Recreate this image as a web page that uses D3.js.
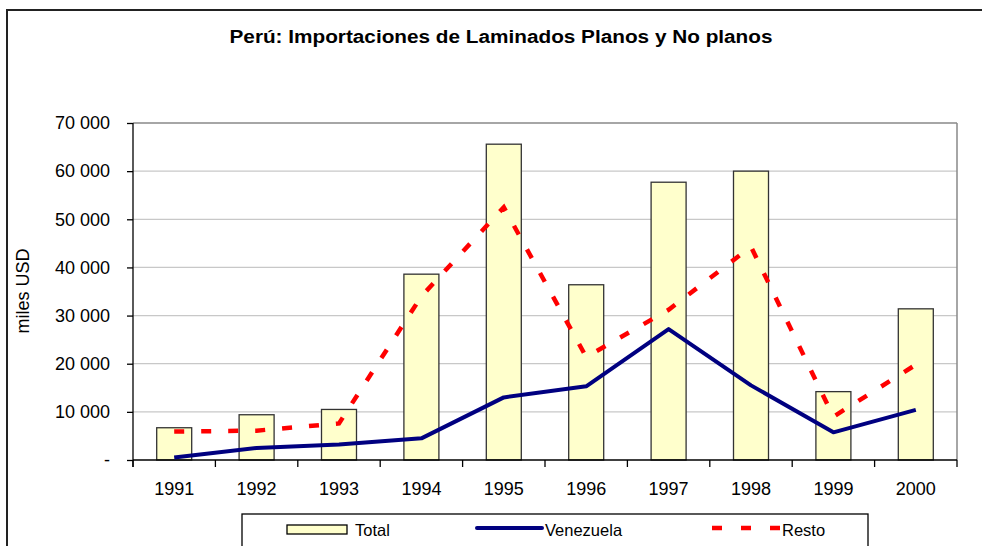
<!DOCTYPE html>
<html>
<head>
<meta charset="utf-8">
<script src="https://cdn.jsdelivr.net/npm/d3@7"></script>
<style>
  body { margin: 0; background: #fff; }
  svg { font-family: "Liberation Sans", Arial, sans-serif; }
</style>
</head>
<body>
<script>
var years = ["1991", "1992", "1993", "1994", "1995", "1996", "1997", "1998", "1999", "2000"];
var total = [6700, 9400, 10500, 38600, 65600, 36400, 57700, 60000, 14200, 31400];
var venezuela = [500, 2500, 3200, 4500, 13000, 15300, 27200, 15500, 5750, 10400];
var resto = [5900, 6100, 7600, 34000, 52500, 21400, 31200, 44300, 9000, 19800];
var yTicks = [0, 10000, 20000, 30000, 40000, 50000, 60000, 70000];

var width = 982,
    height = 546;

var svg = d3.select("body").append("svg")
    .attr("width", width)
    .attr("height", height);

// outer chart frame (right and bottom fall outside the picture)
svg.append("rect")
  .attr("x", 7).attr("y", 10)
  .attr("width", 990).attr("height", 560)
  .attr("fill", "none")
  .attr("stroke", "#222")
  .attr("stroke-width", 2);

svg.append("text")
  .attr("x", 501).attr("y", 43)
  .attr("text-anchor", "middle")
  .attr("textLength", 543)
  .attr("lengthAdjust", "spacingAndGlyphs")
  .style("font-size", "18px")
  .style("font-weight", "bold")
  .text("Perú: Importaciones de Laminados Planos y No planos");

var pLeft = 133, pRight = 957, pTop = 123, pBottom = 460;

var x = d3.scaleBand()
    .domain(years)
    .range([pLeft, pRight]);

var y = d3.scaleLinear()
    .domain([0, 70000])
    .range([pBottom, pTop]);

var fmt = function(d) { return d === 0 ? "-" : d3.format(",")(d).replace(",", " "); };

// gridlines
svg.append("g")
  .selectAll("line")
  .data(yTicks.slice(1))
  .enter().append("line")
  .attr("x1", pLeft).attr("x2", pRight)
  .attr("y1", d => y(d)).attr("y2", d => y(d))
  .attr("stroke", d => d === 70000 ? "#888" : "#c8c8c8")
  .attr("stroke-width", d => d === 70000 ? 1.5 : 1.3);

// right border of plot
svg.append("line")
  .attr("x1", pRight).attr("x2", pRight)
  .attr("y1", pTop).attr("y2", pBottom)
  .attr("stroke", "#888")
  .attr("stroke-width", 1.5);

// bars
svg.append("g")
  .selectAll("rect")
  .data(total)
  .enter().append("rect")
  .attr("x", (d, i) => x(years[i]) + x.bandwidth() / 2 - 17.5)
  .attr("y", d => y(d))
  .attr("width", 35)
  .attr("height", d => pBottom - y(d))
  .attr("fill", "#ffffcc")
  .attr("stroke", "#333")
  .attr("stroke-width", 1.3);

// y axis
var yAxis = d3.axisLeft(y)
    .tickValues(yTicks)
    .tickFormat(fmt)
    .tickSize(6)
    .tickPadding(17);

var gy = svg.append("g")
  .attr("transform", "translate(" + pLeft + ",0)")
  .call(yAxis);
gy.select(".domain").remove();
gy.append("line")
  .attr("x1", 0).attr("x2", 0)
  .attr("y1", pTop).attr("y2", pBottom + 7)
  .attr("stroke", "#000").attr("stroke-width", 1.3);
gy.selectAll(".tick line").attr("stroke", "#000").attr("stroke-width", 1.3);
gy.selectAll(".tick text")
  .style("font-size", "18px")
  .attr("fill", "#000");

// x axis
var gx = svg.append("g")
  .attr("transform", "translate(0," + pBottom + ")");
gx.append("line")
  .attr("x1", pLeft).attr("x2", pRight)
  .attr("stroke", "#000").attr("stroke-width", 1.3);
gx.selectAll("line.tk")
  .data(years.concat(["end"]))
  .enter().append("line")
  .attr("class", "tk")
  .attr("x1", (d, i) => pLeft + i * x.step())
  .attr("x2", (d, i) => pLeft + i * x.step())
  .attr("y1", 0).attr("y2", 7)
  .attr("stroke", "#000").attr("stroke-width", 1.3);
gx.selectAll("text")
  .data(years)
  .enter().append("text")
  .attr("x", d => x(d) + x.bandwidth() / 2)
  .attr("y", 35)
  .attr("text-anchor", "middle")
  .style("font-size", "18px")
  .text(d => d);

svg.append("text")
  .attr("transform", "translate(29,291) rotate(-90)")
  .attr("text-anchor", "middle")
  .style("font-size", "18px")
  .text("miles USD");

var cx = function(i) { return x(years[i]) + x.bandwidth() / 2; };

var line = d3.line()
    .x((d, i) => cx(i))
    .y(d => y(d));

svg.append("path")
  .datum(resto)
  .attr("d", line)
  .attr("fill", "none")
  .attr("stroke", "#ff0000")
  .attr("stroke-width", 4.5)
  .attr("stroke-dasharray", "10,17");

svg.append("path")
  .datum(venezuela)
  .attr("d", line)
  .attr("fill", "none")
  .attr("stroke", "#000080")
  .attr("stroke-width", 4)
  .attr("stroke-linejoin", "round");

// legend
var lg = svg.append("g");
lg.append("rect")
  .attr("x", 242).attr("y", 514)
  .attr("width", 626).attr("height", 60)
  .attr("fill", "#fff")
  .attr("stroke", "#000")
  .attr("stroke-width", 1.3);
lg.append("rect")
  .attr("x", 287).attr("y", 525)
  .attr("width", 60).attr("height", 9)
  .attr("fill", "#ffffcc")
  .attr("stroke", "#000")
  .attr("stroke-width", 1.3);
lg.append("text").attr("x", 355).attr("y", 536).style("font-size", "16.5px").text("Total");
lg.append("line")
  .attr("x1", 477).attr("x2", 542).attr("y1", 528).attr("y2", 528)
  .attr("stroke", "#000080").attr("stroke-width", 4).attr("stroke-linecap", "round");
lg.append("text").attr("x", 545).attr("y", 536).style("font-size", "16.5px").text("Venezuela");
lg.append("line")
  .attr("x1", 712).attr("x2", 780).attr("y1", 528).attr("y2", 528)
  .attr("stroke", "#ff0000").attr("stroke-width", 4.5).attr("stroke-dasharray", "10,19");
lg.append("text").attr("x", 782).attr("y", 536).style("font-size", "16.5px").text("Resto");
</script>
</body>
</html>
